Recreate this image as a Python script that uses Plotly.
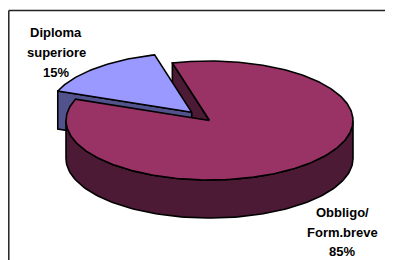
import numpy as np
import plotly.graph_objects as go

# ---- data ----
categories = ["Diploma superiore", "Obbligo/Form.breve"]
label_lines = [["Diploma", "superiore"], ["Obbligo/", "Form.breve"]]
values = [15, 85]

# ---- style / geometry (page pixel units; the page body has an 8px margin) ----
PAGE_W, PAGE_H = 393, 260
BODY_MARGIN = 8
W, H = PAGE_W - BODY_MARGIN, PAGE_H - BODY_MARGIN
CX, CY = 209.5, 120.5
RX, RY = 143.5, 59.5
DEPTH = 38
START_DEG = 105.0          # angle where first slice starts (counter-clockwise)
EXPLODE = [0.185, 0.0]     # explode fraction per slice
TOP_COLORS = ["#9999ff", "#993366"]
SIDE_COLORS = ["#52528c", "#4d1a36"]
LINE = dict(color="black", width=1.6)
FONT = dict(family="Liberation Sans, Arial, sans-serif", size=13, color="black", weight="bold")
BORDER = dict(color="#222222", width=1.5)

total = float(sum(values))
spans = [v / total * 360.0 for v in values]
starts = [START_DEG + sum(spans[:i]) for i in range(len(values))]
ends = [s + sp for s, sp in zip(starts, spans)]
mids = [(s + e) / 2 for s, e in zip(starts, ends)]
offsets = []
for m, f in zip(mids, EXPLODE):
    r = np.radians(m)
    offsets.append((f * RX * np.cos(r), -f * RY * np.sin(r)))


def rim(deg, off, z=0.0):
    r = np.radians(np.asarray(deg, dtype=float))
    return CX + off[0] + RX * np.cos(r), CY + off[1] - RY * np.sin(r) + z


def poly(xs, ys, color, name):
    return go.Scatter(x=list(xs), y=list(ys), mode="lines", fill="toself",
                      fillcolor=color, line=LINE, hoverinfo="text",
                      text=name, showlegend=False)


traces = []
i_small, i_big = 0, 1

# maroon radial face at its end edge (visible through the gap)
ob = offsets[i_big]
a = ends[i_big]
ax_, ay_ = CX + ob[0], CY + ob[1]
rx_, ry_ = rim(a, ob)
traces.append(poly([ax_, rx_, rx_, ax_, ax_], [ay_, ry_, ry_ + DEPTH, ay_ + DEPTH, ay_],
                   SIDE_COLORS[i_big], categories[i_big]))

# blue radial face at its end edge
os_ = offsets[i_small]
a = ends[i_small]
ax_, ay_ = CX + os_[0], CY + os_[1]
rx_, ry_ = rim(a, os_)
traces.append(poly([ax_, rx_, rx_, ax_, ax_], [ay_, ry_, ry_ + DEPTH, ay_ + DEPTH, ay_],
                   SIDE_COLORS[i_small], categories[i_small]))

# blue top face
th = np.linspace(starts[i_small], ends[i_small], 60)
xs, ys = rim(th, os_)
traces.append(poly(np.r_[ax_, xs, ax_], np.r_[ay_, ys, ay_], TOP_COLORS[i_small], categories[i_small]))

# maroon outer wall (front-facing part)
lo = max(starts[i_big], 180.0)
hi = min(ends[i_big], 360.0)
th = np.linspace(lo, hi, 120)
xt, yt = rim(th, ob)
xb, yb = rim(th[::-1], ob, DEPTH)
traces.append(poly(np.r_[xt, xb, xt[0]], np.r_[yt, yb, yt[0]], SIDE_COLORS[i_big], categories[i_big]))

# maroon top face
th = np.linspace(starts[i_big], ends[i_big], 300)
xs, ys = rim(th, ob)
bx, by = CX + ob[0], CY + ob[1]
traces.append(poly(np.r_[bx, xs, bx], np.r_[by, ys, by], TOP_COLORS[i_big], categories[i_big]))

fig = go.Figure(traces)

# labels
label_pos = [(56, [32, 52, 72]), (342, [212, 232, 251])]
annotations = []
for i, (lx, lys) in enumerate(label_pos):
    lines = label_lines[i] + [f"{values[i] / total * 100:.0f}%"]
    for txt, yy in zip(lines, lys):
        annotations.append(dict(x=lx, y=yy, xref="x", yref="y", text=txt, showarrow=False,
                                font=FONT, xanchor="center", yanchor="middle"))

fig.update_layout(
    width=W, height=H, margin=dict(l=0, r=0, t=0, b=0),
    paper_bgcolor="white", plot_bgcolor="white",
    xaxis=dict(range=[BODY_MARGIN, PAGE_W], visible=False, fixedrange=True),
    yaxis=dict(range=[PAGE_H, BODY_MARGIN], visible=False, fixedrange=True),
    annotations=annotations,
    shapes=[
        dict(type="line", xref="x", yref="y", x0=8.8, y0=10.5, x1=PAGE_W, y1=10.5, line=BORDER, layer="below"),
        dict(type="line", xref="x", yref="y", x0=8.8, y0=10.5, x1=8.8, y1=PAGE_H, line=BORDER, layer="below"),
    ],
)

fig.write_html("out.html")
